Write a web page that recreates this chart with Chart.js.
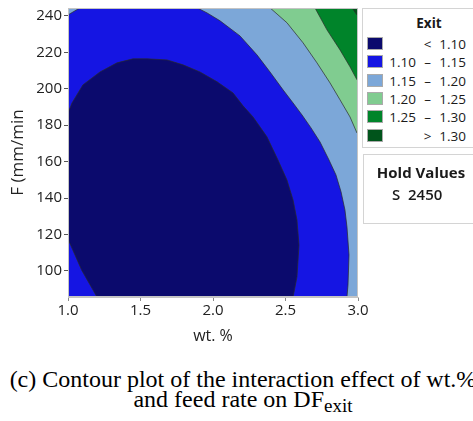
<!DOCTYPE html>
<html lang="en">
<head>
<meta charset="UTF-8">
<title>Contour plot of Exit vs F, wt. %</title>
<script src="https://cdn.jsdelivr.net/npm/chart.js@4.4.0/dist/chart.umd.min.js"></script>
<style>
    body { margin: 0; width: 473px; height: 421px; overflow: hidden; background: #fff; position: relative; font-family: "Open Sans", sans-serif; color: #1a1a1a; }
    #contourCanvas { position: absolute; left: 0; top: 0; }
    .box { position: absolute; border: 1px solid #d4d4d4; background: #fff; box-sizing: border-box; }
    #legendBox { left: 362px; top: 8px; width: 113px; height: 140px; }
    #legendTitle { position: absolute; left: 0; width: 132px; top: 5px; text-align: center; font-weight: bold; font-size: 13.5px; }
    .row { position: absolute; left: 4px; height: 14px; width: 110px; font-size: 13.5px; line-height: 14px; }
    .swatch { position: absolute; left: 0; top: 0; width: 16px; height: 13px; border: 1px solid #aaa; box-sizing: border-box; }
    .lo { position: absolute; right: 61px; top: 0; text-align: right; }
    .sym { position: absolute; left: 56px; width: 9px; top: 0; text-align: center; }
    .hi { position: absolute; right: 11px; top: 0; text-align: right; }
    #holdBox { left: 363px; top: 154px; width: 112px; height: 70px; }
    #holdTitle { position: absolute; left: 0; width: 114px; top: 7px; text-align: center; font-weight: bold; font-size: 15px; }
    #holdValue { position: absolute; left: 28px; top: 29px; font-size: 15px; font-weight: 600; }
    .caption { position: absolute; left: 0; width: 486px; text-align: center; white-space: nowrap; font-family: "Liberation Serif", "Times New Roman", serif; font-size: 24px; line-height: 24px; color: #000; }
    .caption sub { font-size: 19px; vertical-align: -5px; line-height: 0; }
</style>
</head>
<body>

<canvas id="contourCanvas" width="473" height="350"></canvas>

<div class="box" id="legendBox">
    <div id="legendTitle">Exit</div>
</div>
<div class="box" id="holdBox">
    <div id="holdTitle">Hold Values</div>
    <div id="holdValue"></div>
</div>

<div class="caption" style="top:367px">(c) Contour plot of the interaction effect of wt.%</div>
<div class="caption" style="top:387px">and feed rate on DF<sub>exit</sub></div>

<script>
    // axis ranges and ticks
    const wtRange = [1.0, 3.0];
    const feedRange = [85.7, 244.3];
    const xTicks = [1.0, 1.5, 2.0, 2.5, 3.0];
    const yTicks = [100, 120, 140, 160, 180, 200, 220, 240];

    // legend bands (Exit)
    const bandLow = ['', '1.10', '1.15', '1.20', '1.25', ''];
    const bandSym = ['<', '–', '–', '–', '–', '>'];
    const bandHigh = ['1.10', '1.15', '1.20', '1.25', '1.30', '1.30'];
    const bandColors = ['#0b0a6d', '#1515e3', '#7ca7d8', '#80cc90', '#00842a', '#00541b'];

    const holdName = 'S';
    const holdValue = 2450;

    // contour lines, [wt, F]
    const c110 = [[1.0, 186.7], [1.028, 192.2], [1.103, 202.1], [1.221, 209.2], [1.338, 214.2], [1.448, 216.4],
        [1.545, 216.4], [1.683, 215.8], [1.793, 213.1], [1.910, 209.2], [2.028, 203.8], [2.138, 197.7],
        [2.207, 190.6], [2.276, 184.5], [2.372, 173.6], [2.448, 160.9], [2.510, 149.9], [2.552, 139.0],
        [2.579, 128.0], [2.593, 114.2], [2.579, 96.7], [2.552, 85.7]];
    const c110Low = [[1.2, 85.7], [1.094, 100.5], [1.0, 117.5]];
    const c115Left = [[1.0, 240.5], [1.083, 244.4]];
    const c115 = [[1.890, 244.4], [1.959, 241.6], [2.048, 237.3], [2.186, 229.0], [2.303, 218.6], [2.393, 209.2],
        [2.483, 199.4], [2.552, 192.2], [2.614, 185.6], [2.676, 178.5], [2.738, 170.8], [2.800, 160.9],
        [2.848, 152.7], [2.883, 143.4], [2.910, 133.5], [2.924, 124.1], [2.938, 108.8], [2.931, 92.3], [2.924, 85.7]];
    const c120 = [[2.393, 244.4], [2.510, 236.2], [2.621, 225.2], [2.717, 214.2], [2.807, 203.2], [2.876, 193.9],
        [2.945, 184.5], [2.993, 175.7]];
    const c125 = [[2.703, 244.4], [2.786, 232.3], [2.876, 221.3], [2.945, 212.0], [2.993, 204.9]];
    const c130 = [[2.959, 244.4], [2.993, 240.5]];

    function pts(arr) {
        return arr.map(p => ({ x: p[0], y: p[1] }));
    }

    // close a region with points lying outside the plot (they get clipped)
    const lowX = wtRange[0] - 0.1, highX = wtRange[1] + 0.1;
    const lowY = feedRange[0] - 8, highY = feedRange[1] + 8;

    const darkRegion = pts(c110).concat(
        [{ x: c110[c110.length - 1][0], y: lowY }, { x: c110Low[0][0], y: lowY }],
        pts(c110Low),
        [{ x: lowX, y: c110Low[c110Low.length - 1][1] }, { x: lowX, y: c110[0][1] }]);
    const fullRect = [{ x: lowX, y: lowY }, { x: highX, y: lowY }, { x: highX, y: highY }, { x: lowX, y: highY }];

    function cornerRegion(curve) {
        const first = curve[0], last = curve[curve.length - 1];
        return [{ x: first[0] - 0.01, y: highY }].concat(pts(curve),
            [{ x: highX, y: last[1] - 6 }, { x: highX, y: highY }]);
    }
    const lightLeft = [{ x: lowX, y: c115Left[0][1] }].concat(pts(c115Left),
        [{ x: c115Left[1][0] + 0.02, y: highY }, { x: lowX, y: highY }]);
    const lightRight = pts(c115).concat([{ x: c115[c115.length - 1][0] + 0.005, y: lowY },
        { x: highX, y: lowY }, { x: highX, y: highY }, { x: c115[0][0] - 0.01, y: highY }]);

    function region(data, color, order, line) {
        return {
            data: data,
            showLine: true,
            fill: 'shape',
            backgroundColor: color,
            borderColor: '#2a2a2a',
            borderWidth: line ? 0.7 : 0,
            pointRadius: 0,
            tension: 0,
            clip: 0,
            order: order
        };
    }

    const datasets = [
        region(fullRect, bandColors[1], 10, false),
        region(lightLeft, bandColors[2], 9, true),
        region(lightRight, bandColors[2], 8, true),
        region(cornerRegion(c120), bandColors[3], 7, true),
        region(cornerRegion(c125), bandColors[4], 6, true),
        region(cornerRegion(c130), bandColors[5], 5, true),
        region(darkRegion, bandColors[0], 4, true)
    ];

    const framePlugin = {
        id: 'frame',
        afterDatasetsDraw(chart) {
            const a = chart.chartArea, ctx = chart.ctx;
            ctx.save();
            ctx.strokeStyle = '#c4c4c4';
            ctx.lineWidth = 1;
            ctx.strokeRect(a.left + 0.5, a.top + 0.5, a.right - a.left - 1, a.bottom - a.top - 1);
            ctx.restore();
        }
    };

    const tickFont = { family: '"Open Sans", sans-serif', size: 15 };

    new Chart(document.getElementById('contourCanvas'), {
        type: 'scatter',
        data: { datasets: datasets },
        options: {
            responsive: false,
            animation: false,
            devicePixelRatio: 1,
            layout: { padding: { left: 0, top: 8, right: 115, bottom: 0 } },
            plugins: { legend: { display: false }, tooltip: { enabled: false } },
            scales: {
                x: {
                    type: 'linear',
                    min: wtRange[0],
                    max: wtRange[1],
                    afterBuildTicks: s => { s.ticks = xTicks.map(v => ({ value: v })); },
                    afterFit: s => { s.height = 53; s.paddingLeft = 0; s.paddingRight = 0; },
                    ticks: { font: tickFont, color: '#222', padding: 1, maxRotation: 0, callback: v => v.toFixed(1) },
                    grid: { drawOnChartArea: false, tickLength: 4, color: '#8a8a8a' },
                    border: { color: '#c4c4c4' },
                    title: { display: true, text: 'wt. %', font: { family: '"Open Sans", sans-serif', size: 16 }, color: '#222', padding: { top: 0, bottom: 4 } }
                },
                y: {
                    type: 'linear',
                    min: feedRange[0],
                    max: feedRange[1],
                    afterBuildTicks: s => { s.ticks = yTicks.map(v => ({ value: v })); },
                    afterFit: s => { s.width = 68; s.paddingTop = 0; s.paddingBottom = 0; },
                    ticks: { font: tickFont, color: '#222', padding: 2 },
                    grid: { drawOnChartArea: false, tickLength: 4, color: '#555' },
                    border: { color: '#c4c4c4' },
                    title: { display: true, text: 'F (mm/min', font: { family: '"Open Sans", sans-serif', size: 17 }, color: '#222', padding: { top: 8, bottom: 0 } }
                }
            }
        },
        plugins: [framePlugin]
    });

    // legend rows
    const legendBox = document.getElementById('legendBox');
    bandColors.forEach((c, i) => {
        const row = document.createElement('div');
        row.className = 'row';
        row.style.top = (28 + i * 18.3) + 'px';
        row.innerHTML = '<div class="swatch" style="background:' + c + '"></div>' +
            '<span class="lo">' + bandLow[i] + '</span>' +
            '<span class="sym">' + bandSym[i] + '</span>' +
            '<span class="hi">' + bandHigh[i] + '</span>';
        legendBox.appendChild(row);
    });
    document.getElementById('holdValue').textContent = holdName + '\u00a0\u00a0' + holdValue;
</script>
</body>
</html>
